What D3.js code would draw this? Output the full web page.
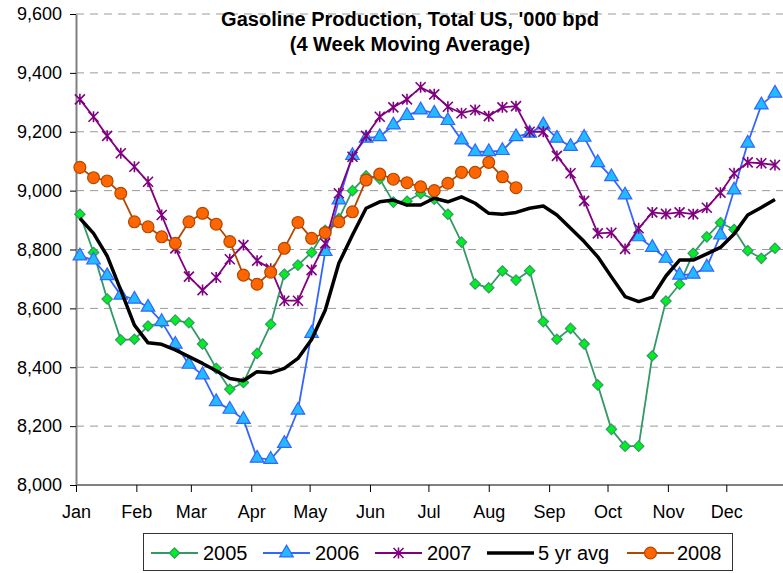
<!DOCTYPE html>
<html>
<head>
<meta charset="utf-8">
<script src="https://cdn.jsdelivr.net/npm/d3@7"></script>
<style>
  body { margin: 0; background: #fff; }
  svg { display: block; font-family: "Liberation Sans", Arial, sans-serif; }
</style>
</head>
<body>
<svg id="chart"></svg>
<script>
// weekly points (4 week moving average), '000 bpd
const weekCount = 52;
const monthLabels = ["Jan", "Feb", "Mar", "Apr", "May", "Jun", "Jul", "Aug", "Sep", "Oct", "Nov", "Dec"];
const yTicks = [8000, 8200, 8400, 8600, 8800, 9000, 9200, 9400, 9600];

const y2005 = [8920, 8790, 8632, 8493, 8495, 8540, 8552, 8560, 8551, 8479, 8396, 8325, 8348, 8447, 8546, 8716, 8747, 8790, 8865, 8905, 9000, 9050, 9040, 8961, 8964, 8990, 8971, 8920, 8825, 8683, 8670, 8727, 8696, 8728, 8555, 8495, 8532, 8479, 8340, 8189, 8132, 8132, 8439, 8625, 8682, 8787, 8843, 8891, 8868, 8796, 8770, 8804];
const y2006 = [8778, 8764, 8711, 8645, 8631, 8604, 8555, 8478, 8410, 8374, 8283, 8257, 8223, 8091, 8087, 8141, 8254, 8515, 8793, 8968, 9119, 9178, 9183, 9223, 9255, 9274, 9263, 9238, 9172, 9132, 9132, 9136, 9183, 9195, 9223, 9178, 9150, 9181, 9095, 9047, 8985, 8843, 8807, 8770, 8713, 8716, 8740, 8849, 9002, 9161, 9291, 9331];
const y2007 = [9310, 9251, 9186, 9127, 9081, 9030, 8917, 8804, 8708, 8662, 8705, 8767, 8815, 8762, 8735, 8626, 8626, 8730, 8821, 8991, 9115, 9186, 9251, 9283, 9310, 9351, 9327, 9285, 9263, 9274, 9253, 9283, 9287, 9200, 9200, 9118, 9059, 8965, 8855, 8857, 8802, 8872, 8926, 8921, 8926, 8920, 8942, 8993, 9059, 9096, 9093, 9087];
const yAvg5 = [8906, 8855, 8778, 8662, 8543, 8483, 8478, 8459, 8436, 8413, 8388, 8362, 8354, 8385, 8381, 8396, 8430, 8494, 8594, 8753, 8849, 8940, 8962, 8968, 8951, 8951, 8974, 8962, 8979, 8957, 8923, 8920, 8926, 8940, 8948, 8917, 8872, 8827, 8775, 8707, 8640, 8623, 8638, 8710, 8764, 8764, 8785, 8807, 8853, 8917, 8943, 8970];
const y2008 = [9079, 9044, 9033, 8991, 8894, 8877, 8843, 8821, 8894, 8923, 8886, 8827, 8713, 8682, 8723, 8804, 8892, 8838, 8857, 8894, 8928, 9036, 9056, 9039, 9027, 9013, 9000, 9025, 9062, 9062, 9096, 9047, 9010];

const width = 783;
const height = 573;
const m = { left: 76, top: 14, bottom: 485 };

const svg = d3.select("#chart").attr("width", width).attr("height", height);

// week dates in one non-leap year, first week ends Jan 3
const weekDates = d3.range(weekCount).map(i => new Date(2007, 0, 3 + 7 * i));
const monthDates = monthLabels.map((d, i) => new Date(2007, i, 1));

const x = d3.scaleTime()
    .domain([new Date(2007, 0, 1), new Date(2008, 0, 1)])
    .range([m.left, m.left + 365 * 1.947]);
const y = d3.scaleLinear().domain([8000, 9600]).range([m.bottom, m.top]);

// grid
svg.append("g")
    .selectAll("line")
    .data(yTicks.slice(1))
    .join("line")
    .attr("x1", m.left).attr("x2", width)
    .attr("y1", d => y(d)).attr("y2", d => y(d))
    .attr("stroke", "#9a9a9a")
    .attr("stroke-width", 1)
    .attr("stroke-dasharray", "8,6");

// axes
const yAxis = svg.append("g")
    .attr("transform", `translate(${m.left},0)`)
    .call(d3.axisLeft(y).tickValues(yTicks).tickFormat(d3.format(",")).tickSize(6).tickSizeOuter(0).tickPadding(8));
const xAxis = svg.append("g")
    .attr("transform", `translate(0,${m.bottom})`)
    .call(d3.axisBottom(x).tickValues(monthDates).tickFormat((d, i) => monthLabels[i]).tickSize(7).tickSizeOuter(0).tickPadding(13));

[yAxis, xAxis].forEach(g => {
    g.select(".domain").attr("stroke", "#808080").attr("stroke-width", 2);
    g.selectAll(".tick line").attr("stroke", "#000").attr("stroke-width", 1);
    g.selectAll(".tick text").attr("fill", "#000").style("font-size", "18px").style("font-family", "'Liberation Sans', Arial, sans-serif");
});
xAxis.select(".domain").attr("d", `M${m.left},0H${width}`);

// markers
const sym = {
    diamond: () => "M0,-5.2L5.2,0L0,5.2L-5.2,0Z",
    triangle: d3.symbol().type(d3.symbolTriangle).size(80),
    circle: d3.symbol().type(d3.symbolCircle).size(110)
};
const starPath = "M0,-5.5V5.5M-5,-5L5,5M-5,5L5,-5";

const series = [
    { name: "2005", values: y2005, line: "#339966", width: 1.8, marker: "diamond", fill: "#00ee22", mstroke: "#339966" },
    { name: "2006", values: y2006, line: "#3366ff", width: 1.8, marker: "triangle", fill: "#22bbff", mstroke: "#3366ff" },
    { name: "2007", values: y2007, line: "#800080", width: 1.8, marker: "star", fill: "none", mstroke: "#800080" },
    { name: "5 yr avg", values: yAvg5, line: "#000000", width: 3.5, marker: null },
    { name: "2008", values: y2008, line: "#b34700", width: 1.8, marker: "circle", fill: "#ff6600", mstroke: "#b34700" }
];

const lineGen = d3.line().x((d, i) => x(weekDates[i])).y(d => y(d));

function drawMarker(g, s, px, py) {
    if (s.marker === "star") {
        g.append("path").attr("d", starPath)
            .attr("transform", `translate(${px},${py})`)
            .attr("fill", "none").attr("stroke", s.mstroke).attr("stroke-width", 1.6);
    } else if (s.marker) {
        g.append("path").attr("d", sym[s.marker]())
            .attr("transform", `translate(${px},${py})`)
            .attr("fill", s.fill).attr("stroke", s.mstroke).attr("stroke-width", 1.2);
    }
}

series.forEach(s => {
    const g = svg.append("g");
    g.append("path").datum(s.values)
        .attr("d", lineGen)
        .attr("fill", "none")
        .attr("stroke", s.line)
        .attr("stroke-width", s.width)
        .attr("stroke-linejoin", "round");
    s.values.forEach((v, i) => drawMarker(g, s, x(weekDates[i]), y(v)));
});

// title
const title = svg.append("text")
    .attr("x", 410).attr("text-anchor", "middle")
    .style("font-size", "20px").style("font-weight", "bold");
title.append("tspan").attr("x", 410).attr("y", 26).text("Gasoline Production, Total US, '000 bpd");
title.append("tspan").attr("x", 410).attr("y", 51).text("(4 Week Moving Average)");

// legend
const lg = svg.append("g");
lg.append("rect")
    .attr("x", 143.5).attr("y", 533.5).attr("width", 589).attr("height", 37)
    .attr("fill", "#fff").attr("stroke", "#333").attr("stroke-width", 1);
const legendX = [151, 263, 375, 487, 627];
const legendTextX = [203, 315, 427, 538, 677];
series.forEach((s, i) => {
    const lx = legendX[i];
    const ly = 553;
    const item = lg.append("g");
    item.append("line")
        .attr("x1", lx).attr("x2", lx + 47).attr("y1", ly).attr("y2", ly)
        .attr("stroke", s.line).attr("stroke-width", s.width);
    drawMarker(item, s, lx + 23.5, ly);
    item.append("text")
        .attr("x", legendTextX[i]).attr("y", 560)
        .style("font-size", "20px")
        .text(s.name);
});
</script>
</body>
</html>
